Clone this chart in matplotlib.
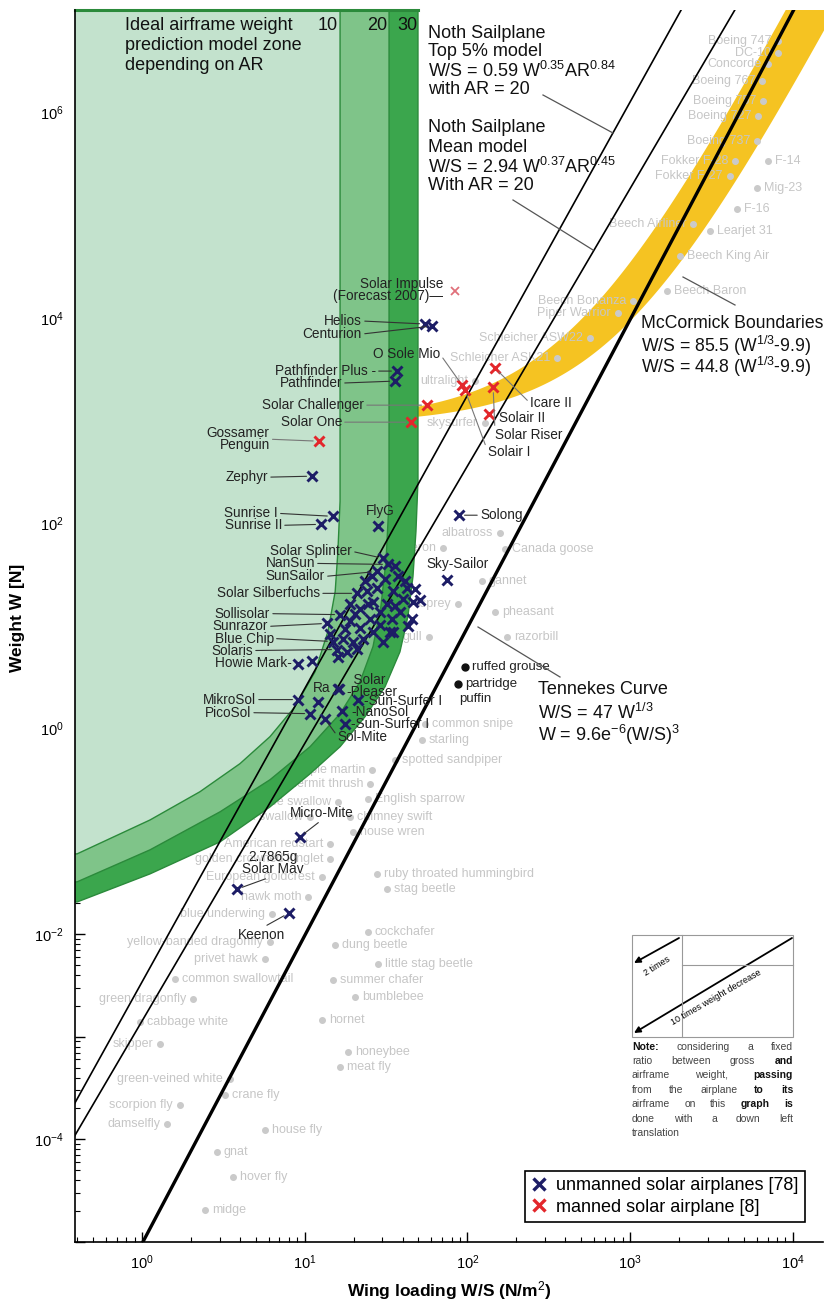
import numpy as np
import matplotlib
matplotlib.use('Agg')
import matplotlib.pyplot as plt
from matplotlib.lines import Line2D
from matplotlib.patches import FancyArrowPatch, Rectangle
from matplotlib.transforms import Affine2D
from matplotlib.ticker import LogLocator, FuncFormatter, NullFormatter

plt.rcParams['font.family'] = ['Liberation Sans', 'DejaVu Sans']
plt.rcParams['mathtext.fontset'] = 'custom'
plt.rcParams['mathtext.rm'] = 'Liberation Sans'
plt.rcParams['mathtext.it'] = 'Liberation Sans:italic'
plt.rcParams['mathtext.bf'] = 'Liberation Sans:bold'

# ---------------- data ----------------
# ideal airframe zone boundaries (wing loading N/m2, weight N) for AR = 10 / 20 / 30
zone_ar10_ws = [0.399, 1.12, 2.27, 4.0, 6.12, 8.72, 11.6, 13.9, 15.4, 16.0, 16.5, 16.5]
zone_ar10_w = [0.0603, 0.129, 0.243, 0.456, 0.836, 1.64, 3.6, 8.84, 21.7, 53.3, 164, 1e7]
zone_ar20_ws = [0.399, 1.12, 3.02, 6.12, 10.8, 16.5, 21.9, 26.3, 29.4, 31.6, 33.0, 33.0]
zone_ar20_w = [0.0322, 0.066, 0.155, 0.318, 0.668, 1.40, 2.87, 6.31, 15.5, 42.6, 164, 1e7]
zone_ar30_ws = [0.399, 1.12, 3.02, 6.12, 10.8, 16.5, 23.5, 31.2, 38.5, 43.1, 46.3, 48.3, 49.7, 49.7]
zone_ar30_w = [0.0205, 0.0385, 0.079, 0.173, 0.364, 0.667, 1.31, 2.57, 5.6, 12.4, 30.4, 83.6, 257, 1e7]

# model coefficients (as written on the chart)
tennekes_k = 47.0
noth_top_k, noth_top_a, noth_top_b = 0.59, 0.35, 0.84
noth_mean_k, noth_mean_a, noth_mean_b = 2.94, 0.37, 0.45
aspect_ratio = 20
mccormick_hi, mccormick_lo, mccormick_c = 85.5, 44.8, 9.9

# unmanned solar airplanes with labels
unmanned_names = ['Helios', 'Centurion', 'Pathfinder Plus -', 'Pathfinder', 'Zephyr', 'Sunrise I',
                  'Sunrise II', 'FlyG', 'Solong', 'Sky-Sailor', 'Solar Splinter', 'NanSun', 'SunSailor',
                  'Solar Silberfuchs', 'Sollisolar', 'Sunrazor', 'Blue Chip', 'Solaris', 'Howie Mark-',
                  'MikroSol', 'PicoSol', 'Ra', '-Sun-Surfer I', '-NanoSol', '-Sun-Surfer I', 'Sol-Mite',
                  'Micro-Mite', '2.7865g\nSolar Mav', 'Keenon', '  Solar\n-Pleaser']
unmanned_ws = [54.9, 60.6, 36.9, 35.9, 11.1, 14.9, 12.6, 28.2, 88.8, 75.0, 30.3, 32.5, 27.8,
               21.0, 16.5, 13.7, 14.9, 15.8, 9.1, 9.1, 10.8, 16.0, 21.3, 17.0, 17.7, 13.3,
               9.35, 3.84, 8.0, 16.3]
unmanned_w = [8740, 8350, 3040, 2430, 288, 117, 97.8, 93.5, 120, 27.8, 45.6, 39.8, 34.0,
              20.8, 12.9, 10.6, 7.06, 5.9, 4.31, 1.92, 1.40, 2.45, 1.92, 1.47, 1.12, 1.25,
              0.0884, 2.7865e-3 * 9.81, 0.016, 2.45]

# unmanned solar airplanes without labels (main cluster)
cluster_ws = [24.2, 27.8, 34.9, 42.5, 46.3, 45.7, 33.5, 38.5, 19.0, 21.9, 25.2, 29.0, 32.0, 17.2,
              19.8, 22.8, 18.2, 26.3, 40.2, 21.9, 19.0, 29.0, 21.0, 26.3, 23.5, 31.2, 37.4, 41.3,
              35.9, 17.7, 20.4, 24.5, 43.2, 34.4, 30.3, 14.3, 16.0, 12.1, 11.1, 47.6, 51.1, 35.9,
              25.9, 34.9]
cluster_w = [21.7, 23.2, 21.7, 23.2, 17.3, 11.8, 8.8, 13.8, 11.1, 9.46, 11.8, 13.8, 16.2, 7.55,
             7.06, 7.55, 5.64, 17.3, 18.5, 14.8, 16.2, 10.3, 6.03, 8.8, 27.2, 28.4, 30.4, 27.2,
             15.5, 9.25, 13.2, 16.2, 9.9, 11.8, 7.06, 8.45, 5.04, 1.83, 4.6, 22.7, 18.1, 38.0,
             30.4, 8.8]

# manned solar airplanes
manned_names = ['Gossamer\nPenguin', 'Solar Challenger', 'Solar One', 'O Sole Mio', 'Icare II',
                'Solar Riser', 'Solair II', 'Solair I']
manned_ws = [12.2, 56.5, 45.0, 92.7, 148, 144, 136, 96.7]
manned_w = [631, 1416, 967, 2220, 3250, 2120, 1157, 1985]
forecast_name = 'Solar Impulse\n(Forecast 2007)'
forecast_ws, forecast_w = 83.9, 18300

# birds, insects and aircraft from the great flight diagram
bg_names = ['Boeing 747', 'DC-10', 'Concorde', 'Boeing 767', 'Boeing 757', 'Boeing 727', 'Boeing 737',
            'Fokker F-28', 'Fokker F-27', 'F-14', 'Mig-23', 'F-16', 'Beech Airliner', 'Learjet 31',
            'Beech King Air', 'Beech Baron', 'Beech Bonanza', 'Piper Warrior', 'Schleicher ASW22',
            'Schleicher ASK21', 'ultralight', 'skysurfer', 'albatross', 'Canada goose', 'heron',
            'gannet', 'pheasant', 'razorbill', 'osprey', 'gull', 'common snipe', 'starling',
            'spotted sandpiper', 'purple martin', 'hermit thrush', 'tree swallow', 'English sparrow',
            'bank swallow', 'chimney swift', 'house wren', 'American redstart',
            'golden crowned kinglet', 'European goldcrest', 'ruby throated hummingbird', 'stag beetle',
            'hawk moth', 'blue underwing', 'yellow-banded dragonfly', 'cockchafer', 'dung beetle',
            'privet hawk', 'little stag beetle', 'common swallowtail', 'summer chafer', 'bumblebee',
            'green dragonfly', 'hornet', 'cabbage white', 'skipper', 'honeybee', 'meat fly',
            'green-veined white', 'crane fly', 'scorpion fly', 'damselfly', 'house fly', 'gnat',
            'hover fly', 'midge']
bg_ws = [8110, 8110, 7040, 6470, 6560, 6110, 6030, 4410, 4110, 7040, 6030, 4540, 2440, 3100,
         2030, 1690, 1040, 843, 567, 356, 111, 128, 159, 170, 70.8, 123, 148, 175, 87.5, 58.1,
         54.9, 52.6, 35.9, 25.9, 25.2, 16.0, 24.5, 10.8, 19.0, 19.8, 14.3, 14.3, 12.8, 27.8, 32.0,
         10.5, 6.3, 6.12, 24.5, 15.4, 5.7, 28.2, 1.6, 14.9, 20.4, 2.06, 12.8, 0.97, 1.29, 18.5,
         16.5, 3.48, 3.24, 1.71, 1.43, 5.7, 2.89, 3.63, 2.44]
bg_w = [5.04e6, 3.77e6, 3.0e6, 2.05e6, 1.31e6, 9.35e5, 5.33e5, 3.4e5, 2.43e5, 3.4e5, 1.85e5,
        1.16e5, 8.26e4, 7.06e4, 4.03e4, 1.83e4, 1.47e4, 1.12e4, 6380, 4070, 2430, 946, 79.9, 55.8,
        57, 27.2, 13.8, 7.9, 16.2, 7.9, 1.12, 0.78, 0.499, 0.398, 0.291, 0.194, 0.207, 0.138,
        0.138, 0.0989, 0.0755, 0.054, 0.036, 0.0385, 0.0275, 0.023, 0.0157, 0.00835, 0.0105,
        0.00781, 0.0057, 0.0051, 0.00364, 0.00356, 0.00243, 0.00232, 0.00145, 0.00138, 0.000845,
        0.000706, 0.000504, 0.000385, 0.000269, 0.000215, 0.00014, 0.000122, 7.6e-5, 4.26e-5,
        2.07e-5]
bg_side = ['l', 'l', 'l', 'l', 'l', 'l', 'l', 'l', 'l', 'r', 'r', 'r', 'l', 'r', 'r', 'r', 'l', 'l',
           'l', 'l', 'l', 'l', 'l', 'r', 'l', 'r', 'r', 'r', 'l', 'l', 'r', 'r', 'r', 'l', 'l', 'l',
           'r', 'l', 'r', 'r', 'l', 'l', 'l', 'r', 'r', 'l', 'l', 'l', 'r', 'r', 'l', 'r', 'r', 'r',
           'r', 'l', 'r', 'r', 'l', 'r', 'r', 'l', 'r', 'l', 'l', 'r', 'r', 'r', 'r']
dark_names = ['ruffed grouse', 'partridge', 'puffin']
dark_ws = [96.7, 87.5, 80.4]
dark_w = [4.03, 2.75, 1.96]

# ---------------- figure ----------------
NAVY = '#1d1d66'
RED = '#e3262b'
GREEN_EDGE = '#2b8a3b'

fig = plt.figure(figsize=(8.3, 13.05), dpi=100)
ax = fig.add_axes([75 / 830, 63 / 1305, 748 / 830, 1232 / 1305])
px = Affine2D().scale(1, -1).translate(0, 1305)  # pixel positions, origin top left

ax.set_xscale('log')
ax.set_yscale('log')
ax.set_xlim(0.3875, 15340)
ax.set_ylim(1e-5, 1e7)

# McCormick band
w_band = np.logspace(np.log10(972), 7.2, 600)
root = w_band ** (1 / 3) - mccormick_c
ax.fill_betweenx(w_band, mccormick_lo * root, mccormick_hi * root,
                 facecolor='#f5c322', edgecolor='#f5c322', lw=2.5, zorder=1)

# ideal airframe zones
for ws, w, c in [(zone_ar30_ws, zone_ar30_w, '#3ba64d'),
                 (zone_ar20_ws, zone_ar20_w, '#7fc489'),
                 (zone_ar10_ws, zone_ar10_w, '#c3e2cd')]:
    xs = [0.3] + list(ws) + [0.3]
    ys = [w[0]] + list(w) + [1e7]
    ax.fill(xs, ys, facecolor=c, edgecolor=GREEN_EDGE, lw=1.0, zorder=2)
ax.plot([0.3875, zone_ar30_ws[-1]], [1e7, 1e7], color=GREEN_EDGE, lw=2.2,
        clip_on=False, zorder=2.5)

# background: great flight diagram
ax.plot(bg_ws, bg_w, 'o', ms=4, color='#cacaca', zorder=1.5)
for name, x, y, side in zip(bg_names, bg_ws, bg_w, bg_side):
    dx = -5 if side == 'l' else 5
    ax.annotate(name, (x, y), xytext=(dx, 0), textcoords='offset points',
                ha='right' if side == 'l' else 'left', va='center',
                fontsize=9, color='#c6c6c6', zorder=1.5)
ax.plot(dark_ws[:2], dark_w[:2], 'o', ms=5, color='#111', zorder=4)
for name, x, y in zip(dark_names, dark_ws, dark_w):
    ax.annotate(name, (x, y), xytext=(5, 0), textcoords='offset points',
                ha='left', va='center', fontsize=9.5, color='#222', zorder=4)

# model lines
ws_line = np.logspace(-0.6, 4.4, 400)
ax.plot(ws_line, (ws_line / tennekes_k) ** 3, color='k', lw=2.4, zorder=3)
ax.plot(ws_line, (ws_line / (noth_top_k * aspect_ratio ** noth_top_b)) ** (1 / noth_top_a),
        color='k', lw=1.2, zorder=3)
ax.plot(ws_line, (ws_line / (noth_mean_k * aspect_ratio ** noth_mean_b)) ** (1 / noth_mean_a),
        color='k', lw=1.2, zorder=3)

# airplanes
ax.plot(cluster_ws, cluster_w, 'x', ms=7.5, mew=2.1, color=NAVY, zorder=5)
ax.plot(unmanned_ws, unmanned_w, 'x', ms=7.5, mew=2.1, color=NAVY, zorder=5)
ax.plot(manned_ws, manned_w, 'x', ms=7.5, mew=2.1, color=RED, zorder=5)
ax.plot([forecast_ws], [forecast_w], 'x', ms=6, mew=1.3, color='#e0707a', zorder=5)

# label offsets in pixels (dx, dy downward), alignment, leader line
unmanned_layout = [(-63, -3, 'right', True), (-70, 8, 'right', True), (-21, 0, 'right', True),
                   (-53, 2, 'right', True), (-44, 1, 'right', True), (-55, -3, 'right', True),
                   (-39, 1, 'right', True), (2, -15, 'center', False), (21, 0, 'left', True),
                   (11, -16, 'center', False), (-31, -7, 'right', True), (-73, -1, 'right', True),
                   (-52, 5, 'right', True), (-37, 0, 'right', True), (-70, -1, 'right', True),
                   (-59, 3, 'right', True), (-59, -3, 'right', True), (-84, 1, 'right', True),
                   (-6, -1, 'right', False), (-42, 0, 'right', True), (-59, -1, 'right', True),
                   (-7, -1, 'right', False), (6, 1, 'left', False), (9, 1, 'left', False),
                   (6, 0, 'left', False), (13, 18, 'left', True), (22, -24, 'center', True),
                   (36, -26, 'center', True), (-27, 22, 'center', True), (7, -3, 'left', False)]
manned_layout = [(-49, -2, 'right', True), (-63, 0, 'right', True), (-69, 0, 'right', True),
                 (-22, -31, 'right', True), (35, 35, 'left', True), (2, 48, 'left', True),
                 (10, 4, 'left', False), (23, 62, 'left', True)]


def label(name, x, y, lay, leader_color):
    dx, dy, ha, leader = lay
    if ha == 'right':
        rel = (1, 0.5)
    elif ha == 'left':
        rel = (0, 0.5)
    else:
        rel = (0.5, 0) if dy < 0 else (0.5, 1)
    arrow = dict(arrowstyle='-', color=leader_color, lw=0.8, shrinkA=0, shrinkB=4,
                 relpos=rel) if leader else None
    ax.annotate(name, (x, y), xytext=(dx * 0.72, -dy * 0.72), textcoords='offset points',
                ha=ha, va='center', fontsize=9.8, color='#222', linespacing=0.8,
                arrowprops=arrow, zorder=6)


for name, x, y, lay in zip(unmanned_names, unmanned_ws, unmanned_w, unmanned_layout):
    label(name, x, y, lay, '#333')
for name, x, y, lay in zip(manned_names, manned_ws, manned_w, manned_layout):
    label(name, x, y, lay, '#777')
label(forecast_name + '\u2014', forecast_ws, forecast_w, (-12, -1, 'right', False), '#333')


# model captions
def caption(lines, x, ys, fs=13):
    for s, y in zip(lines, ys):
        fig.text(x, y, s, transform=px, fontsize=fs, va='center', ha='left', color='#111',
                 zorder=7)


caption(['Ideal airframe weight', 'prediction model zone', 'depending on AR'], 125, [25, 45, 65])
for s, x in [('10', 328), ('20', 377), ('30', 407)]:
    fig.text(x, 25, s, transform=px, fontsize=13, va='center', ha='center', color='#111')
caption(['Noth Sailplane', 'Top 5% model', r'W/S = 0.59 W$^{0.35}$AR$^{0.84}$', 'with AR = 20'],
        428, [33, 52, 71, 90])
caption(['Noth Sailplane', 'Mean model', r'W/S = 2.94 W$^{0.37}$AR$^{0.45}$', 'With AR = 20'],
        428, [128, 147, 167, 186])
caption(['McCormick Boundaries', r'W/S = 85.5 (W$^{1/3}$-9.9)', r'W/S = 44.8 (W$^{1/3}$-9.9)'],
        641, [323, 346, 367], fs=12.7)
caption(['Tennekes Curve', r'W/S = 47 W$^{1/3}$', r'W = 9.6e$^{-6}$(W/S)$^3$'], 538, [690, 713, 735])

for (x0, y0), (x1, y1) in [((543, 95), (613, 133)), ((513, 200), (593, 250)),
                           ((735, 305), (683, 277)), ((478, 627), (560, 677))]:
    fig.add_artist(Line2D([x0, x1], [y0, y1], transform=px, color='#555', lw=0.9))

# note box
fig.add_artist(Rectangle((632, 935), 161, 102, transform=px, fill=False, ec='#999', lw=0.8))
fig.add_artist(Line2D([682, 682], [935, 1037], transform=px, color='#999', lw=0.8))
fig.add_artist(Line2D([682, 793], [965, 965], transform=px, color='#999', lw=0.8))
for a, b in [((679, 938), (634, 963)), ((792, 938), (634, 1033))]:
    fig.add_artist(FancyArrowPatch(a, b, transform=px, arrowstyle='-|>', mutation_scale=9,
                                   color='k', lw=1.3, shrinkA=0, shrinkB=0))
fig.text(657, 966, '2 times', transform=px, fontsize=6.5, rotation=32, ha='center',
         va='center', rotation_mode='anchor')
fig.text(716, 997, '10 times weight decrease', transform=px, fontsize=6.5, rotation=30,
         ha='center', va='center', rotation_mode='anchor')

note_lines = [['*Note:', 'considering', 'a', 'fixed'],
              ['ratio', 'between', 'gross', '*and'],
              ['airframe', 'weight,', '*passing'],
              ['from', 'the', 'airplane', '*to', '*its'],
              ['airframe', 'on', 'this', '*graph', '*is'],
              ['done', 'with', 'a', 'down', 'left'],
              ['translation']]
note_ys = [1047, 1061, 1075, 1090, 1104, 1119, 1133]
renderer = fig.canvas.get_renderer()
for k, (words, y) in enumerate(zip(note_lines, note_ys)):
    arts = []
    for wd in words:
        bold = wd.startswith('*')
        arts.append(fig.text(640, y, wd.lstrip('*'), transform=px, fontsize=7.5, va='center',
                             ha='left', fontweight='bold' if bold else 'normal',
                             color='#111' if bold else '#444'))
    widths = [t.get_window_extent(renderer).width for t in arts]
    gap = 3 if k == len(note_lines) - 1 else (161 - sum(widths)) / (len(arts) - 1)
    xpos = 632
    for t, wdt in zip(arts, widths):
        t.set_x(xpos)
        xpos += wdt + gap

# legend
handles = [Line2D([], [], ls='none', marker='x', ms=9, mew=2.4, color=NAVY),
           Line2D([], [], ls='none', marker='x', ms=9, mew=2.4, color=RED)]
leg = ax.legend(handles, ['unmanned solar airplanes [78]', 'manned solar airplane [8]'],
                loc='lower right', bbox_to_anchor=(0.976, 0.0162), borderaxespad=0,
                fontsize=13, fancybox=False, framealpha=1, edgecolor='k',
                handlelength=0.9, handletextpad=0.5, labelspacing=0.25, borderpad=0.35)
leg.get_frame().set_linewidth(1.2)
leg.set_zorder(8)

# axes styling
for side in ['top', 'right']:
    ax.spines[side].set_visible(False)
for side in ['left', 'bottom']:
    ax.spines[side].set_linewidth(1.2)
ax.xaxis.set_major_locator(LogLocator(base=10, numticks=20))
ax.yaxis.set_major_locator(LogLocator(base=10, numticks=20))
ax.xaxis.set_minor_locator(LogLocator(base=10, subs=np.arange(2, 10), numticks=20))
ax.yaxis.set_minor_locator(LogLocator(base=10, subs=np.arange(2, 10), numticks=20))
ax.xaxis.set_minor_formatter(NullFormatter())
ax.yaxis.set_minor_formatter(NullFormatter())
ax.xaxis.set_major_formatter(FuncFormatter(lambda v, _: r'$10^{%d}$' % round(np.log10(v))))
ax.yaxis.set_major_formatter(FuncFormatter(
    lambda v, _: r'$10^{%d}$' % round(np.log10(v)) if round(np.log10(v)) % 2 == 0 else ''))
ax.tick_params(which='major', direction='in', length=7, width=1, labelsize=10.5, pad=8)
ax.tick_params(which='minor', direction='in', length=3.5, width=0.8)
ax.tick_params(top=False, right=False)

fig.text(18, 618, 'Weight W [N]', transform=px, rotation=90, fontsize=12.5, fontweight='bold',
         ha='center', va='center')
fig.text(449, 1291, r'Wing loading W/S (N/m$^2$)', transform=px, fontsize=12.5,
         fontweight='bold', ha='center', va='center')

fig.savefig('out.png', dpi=100)
